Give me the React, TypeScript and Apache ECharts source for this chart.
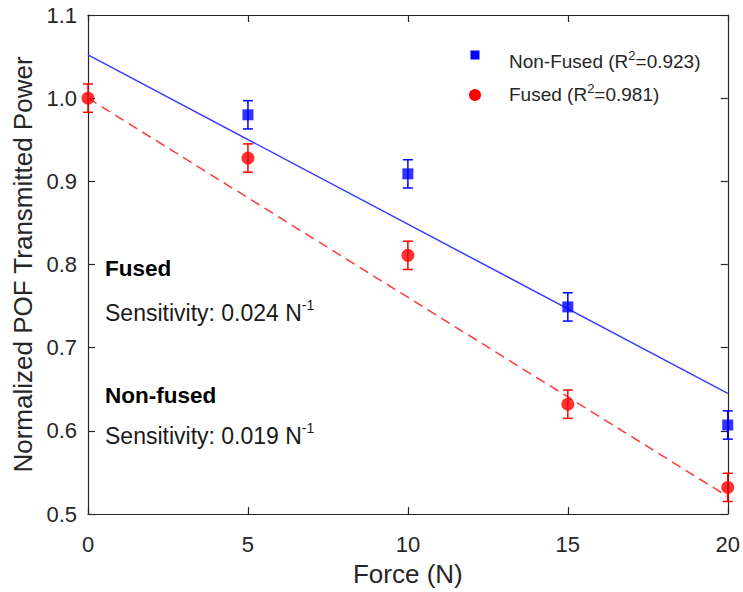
import React, { useEffect, useRef } from "react";
import * as echarts from "echarts";

const forceNonFused = [5, 10, 15, 20];
const valueNonFused = [0.98, 0.909, 0.749, 0.607];
const errNonFused = [0.017, 0.017, 0.017, 0.017];

const forceFused = [0, 5, 10, 15, 20];
const valueFused = [1.0, 0.928, 0.811, 0.632, 0.532];
const errFused = [0.017, 0.017, 0.017, 0.017, 0.017];

const fitNonFused: [number, number][] = [[0, 1.052], [20, 0.645]];
const fitFused: [number, number][] = [[0, 1.0], [20, 0.521]];

const xTicks = [0, 5, 10, 15, 20];
const yTicks = [0.5, 0.6, 0.7, 0.8, 0.9, 1.0, 1.1];

const FONT = "Liberation Sans, Arial, Helvetica, sans-serif";
const TXT = "#262626";

function errorBarSeries(xs: number[], ys: number[], es: number[], color: string) {
  return {
    type: "custom",
    clip: false,
    silent: true,
    data: xs.map((x, i) => [x, ys[i] - es[i], ys[i] + es[i]]),
    renderItem: (params: any, api: any) => {
      const lo = api.coord([api.value(0), api.value(1)]);
      const hi = api.coord([api.value(0), api.value(2)]);
      const hw = 5;
      const style = { stroke: color, lineWidth: 1.5, fill: "none" };
      return {
        type: "group",
        children: [
          { type: "line", shape: { x1: lo[0], y1: lo[1], x2: hi[0], y2: hi[1] }, style },
          { type: "line", shape: { x1: lo[0] - hw, y1: lo[1], x2: lo[0] + hw, y2: lo[1] }, style },
          { type: "line", shape: { x1: hi[0] - hw, y1: hi[1], x2: hi[0] + hw, y2: hi[1] }, style },
        ],
      };
    },
    z: 3,
  };
}

const legendRich = {
  n: { fontSize: 19, fontFamily: FONT, fill: TXT, lineHeight: 22, verticalAlign: "bottom" },
  s: { fontSize: 13, fontFamily: FONT, fill: TXT, lineHeight: 14, verticalAlign: "top" },
};
const sensRich = {
  n: { fontSize: 23, fontFamily: FONT, fill: "#1a1a1a", lineHeight: 26, verticalAlign: "bottom" },
  s: { fontSize: 14, fontFamily: FONT, fill: "#1a1a1a", lineHeight: 15, verticalAlign: "top" },
};

export default function App() {
  const ref = useRef<HTMLDivElement>(null);
  useEffect(() => {
    if (!ref.current) return;
    const chart = echarts.init(ref.current, null, { renderer: "svg" });
    const axisCommon = {
      type: "value",
      axisLine: { show: true, onZero: false, lineStyle: { color: TXT, width: 1.2 } },
      axisTick: { show: true, inside: true, length: 7, lineStyle: { color: TXT, width: 1.2 } },
      splitLine: { show: false },
    };
    chart.setOption({
      animation: false,
      backgroundColor: "#ffffff",
      grid: { left: 88, top: 15, right: 11, bottom: 75, containLabel: false },
      xAxis: [
        {
          ...axisCommon,
          min: 0,
          max: 20,
          interval: 5,
          position: "bottom",
          name: "Force (N)",
          nameLocation: "middle",
          nameGap: 47,
          nameTextStyle: { color: TXT, fontSize: 26, fontFamily: FONT },
          axisLabel: {
            color: TXT,
            fontSize: 22,
            fontFamily: FONT,
            margin: 19,
            formatter: (v: number) => (xTicks.includes(v) ? String(v) : ""),
          },
        },
        {
          ...axisCommon,
          min: 0,
          max: 20,
          interval: 5,
          position: "top",
          axisLabel: { show: false },
        },
      ],
      yAxis: [
        {
          ...axisCommon,
          min: 0.5,
          max: 1.1,
          interval: 0.1,
          position: "left",
          name: "Normalized POF Transmitted Power",
          nameLocation: "middle",
          nameGap: 52,
          nameTextStyle: { color: TXT, fontSize: 26, fontFamily: FONT },
          axisLabel: {
            color: TXT,
            fontSize: 22,
            fontFamily: FONT,
            margin: 11,
            formatter: (v: number) => {
              const t = yTicks.find((y) => Math.abs(y - v) < 1e-6);
              return t === undefined ? "" : t.toFixed(1);
            },
          },
        },
        {
          ...axisCommon,
          min: 0.5,
          max: 1.1,
          interval: 0.1,
          position: "right",
          axisLabel: { show: false },
        },
      ],
      series: [
        {
          name: "Non-Fused fit",
          type: "line",
          data: fitNonFused,
          symbol: "none",
          lineStyle: { color: "#3b3bff", width: 1.5 },
          z: 2,
        },
        {
          name: "Fused fit",
          type: "line",
          data: fitFused,
          symbol: "none",
          lineStyle: { color: "#ff3b3b", width: 1.5, type: [10, 6] },
          z: 2,
        },
        errorBarSeries(forceNonFused, valueNonFused, errNonFused, "#0000ff"),
        errorBarSeries(forceFused, valueFused, errFused, "#ff0000"),
        {
          name: "Non-Fused",
          type: "scatter",
          clip: false,
          data: forceNonFused.map((x, i) => [x, valueNonFused[i]]),
          symbol: "rect",
          symbolSize: 11,
          itemStyle: { color: "#0000ff" },
          z: 4,
        },
        {
          name: "Fused",
          type: "scatter",
          clip: false,
          data: forceFused.map((x, i) => [x, valueFused[i]]),
          symbol: "circle",
          symbolSize: 13,
          itemStyle: { color: "#ff0000" },
          z: 4,
        },
      ],
      graphic: [
        { type: "rect", shape: { x: 470.5, y: 50.5, width: 9, height: 9 }, style: { fill: "#0000ff" } },
        { type: "circle", shape: { cx: 475, cy: 95, r: 6 }, style: { fill: "#ff0000" } },
        {
          type: "text",
          x: 509,
          y: 60,
          style: {
            text: "{n|Non-Fused (R}{s|2}{n|=0.923)}",
            verticalAlign: "middle",
            rich: legendRich,
          },
        },
        {
          type: "text",
          x: 509,
          y: 93,
          style: {
            text: "{n|Fused (R}{s|2}{n|=0.981)}",
            verticalAlign: "middle",
            rich: legendRich,
          },
        },
        {
          type: "text",
          x: 105,
          y: 268,
          style: {
            text: "Fused",
            fontSize: 22.5,
            fontWeight: "bold",
            fontFamily: FONT,
            fill: "#000",
            verticalAlign: "middle",
          },
        },
        {
          type: "text",
          x: 105,
          y: 311,
          style: {
            text: "{n|Sensitivity: 0.024 N}{s|-1}",
            verticalAlign: "middle",
            rich: sensRich,
          },
        },
        {
          type: "text",
          x: 105,
          y: 395,
          style: {
            text: "Non-fused",
            fontSize: 22.5,
            fontWeight: "bold",
            fontFamily: FONT,
            fill: "#000",
            verticalAlign: "middle",
          },
        },
        {
          type: "text",
          x: 105,
          y: 434,
          style: {
            text: "{n|Sensitivity: 0.019 N}{s|-1}",
            verticalAlign: "middle",
            rich: sensRich,
          },
        },
      ],
    });
    return () => chart.dispose();
  }, []);
  return <div ref={ref} style={{ width: 743, height: 592, position: "absolute", left: 0, top: 0 }} />;
}
